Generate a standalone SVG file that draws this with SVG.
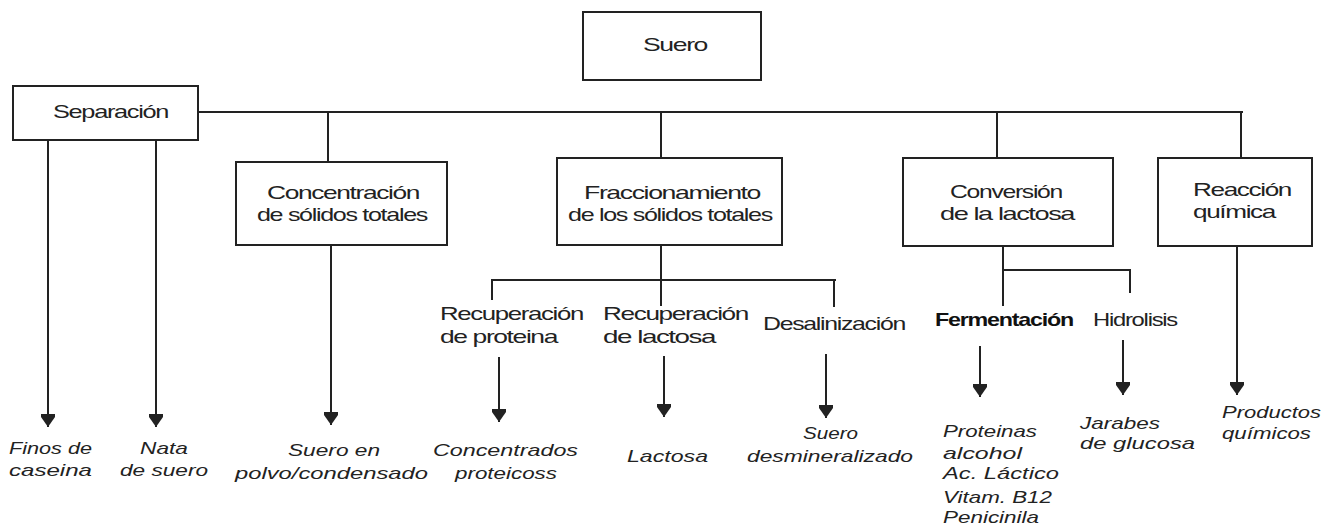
<svg xmlns="http://www.w3.org/2000/svg" width="1337" height="527" viewBox="0 0 1337 527">
<defs>
<style>
.box{fill:#fff;stroke:#222;stroke-width:2}
.ln{fill:none;stroke:#222;stroke-width:2}
.t{font-family:"Liberation Sans",Arial,sans-serif;font-size:19px;fill:#222;letter-spacing:-1px}
.p{font-family:"Liberation Sans",Arial,sans-serif;font-size:17px;font-style:italic;fill:#222}
.b{font-family:"Liberation Sans",Arial,sans-serif;font-size:19px;font-weight:bold;fill:#111;letter-spacing:-1px}
</style>
<marker id="ah" viewBox="0 -8 13 16" refX="13" refY="0" markerWidth="13" markerHeight="16" markerUnits="userSpaceOnUse" orient="auto">
<path d="M0,-7 L3,-7 L13,0 L3,7 L0,7 Z" fill="#222"/>
</marker>
</defs>
<rect width="1337" height="527" fill="#fff"/>
<g id="connectors">
<path class="ln" d="M198,112 H1243"/>
<path class="ln" d="M328,112 V162"/>
<path class="ln" d="M661,112 V158"/>
<path class="ln" d="M997,112 V158"/>
<path class="ln" d="M1241,112 V158"/>
<path class="ln" d="M48,140 V427" marker-end="url(#ah)"/>
<path class="ln" d="M156,140 V427" marker-end="url(#ah)"/>
<path class="ln" d="M331,245 V425" marker-end="url(#ah)"/>
<path class="ln" d="M661,245 V306 M491,280 H836 M492,280 V300 M834,280 V307"/>
<path class="ln" d="M499,357 V422" marker-end="url(#ah)"/>
<path class="ln" d="M664,356 V417" marker-end="url(#ah)"/>
<path class="ln" d="M826,354 V418" marker-end="url(#ah)"/>
<path class="ln" d="M1003,246 V306 M1003,270 H1130 V293"/>
<path class="ln" d="M980,346 V397" marker-end="url(#ah)"/>
<path class="ln" d="M1123,340 V395" marker-end="url(#ah)"/>
<path class="ln" d="M1237,246 V395" marker-end="url(#ah)"/>
</g>
<g id="suero">
<rect class="box" x="583" y="12" width="178" height="68"/>
<text class="t" x="643" y="51" textLength="64" lengthAdjust="spacingAndGlyphs">Suero</text>
</g>
<g id="separacion">
<rect class="box" x="13" y="86" width="185" height="54"/>
<text class="t" x="53" y="118" textLength="115" lengthAdjust="spacingAndGlyphs">Separación</text>
</g>
<g id="concentracion">
<rect class="box" x="236" y="162" width="211" height="83"/>
<text class="t" x="267" y="199" textLength="152" lengthAdjust="spacingAndGlyphs">Concentración</text>
<text class="t" x="257" y="221" textLength="170" lengthAdjust="spacingAndGlyphs">de sólidos totales</text>
</g>
<g id="fraccionamiento">
<rect class="box" x="557" y="158" width="225" height="87"/>
<text class="t" x="584" y="199" textLength="176" lengthAdjust="spacingAndGlyphs">Fraccionamiento</text>
<text class="t" x="568" y="221" textLength="204" lengthAdjust="spacingAndGlyphs">de los sólidos totales</text>
</g>
<g id="conversion">
<rect class="box" x="903" y="158" width="210" height="88"/>
<text class="t" x="950" y="198" textLength="112" lengthAdjust="spacingAndGlyphs">Conversión</text>
<text class="t" x="940" y="220" textLength="134" lengthAdjust="spacingAndGlyphs">de la lactosa</text>
</g>
<g id="reaccion">
<rect class="box" x="1158" y="158" width="154" height="88"/>
<text class="t" x="1193" y="196" textLength="98" lengthAdjust="spacingAndGlyphs">Reacción</text>
<text class="t" x="1193" y="218" textLength="82" lengthAdjust="spacingAndGlyphs">química</text>
</g>
<g id="rec-proteina">
<text class="t" x="440" y="320" textLength="143" lengthAdjust="spacingAndGlyphs">Recuperación</text>
<text class="t" x="440" y="343" textLength="117" lengthAdjust="spacingAndGlyphs">de proteina</text>
</g>
<g id="rec-lactosa">
<text class="t" x="603" y="320" textLength="145" lengthAdjust="spacingAndGlyphs">Recuperación</text>
<text class="t" x="603" y="343" textLength="112" lengthAdjust="spacingAndGlyphs">de lactosa</text>
</g>
<g id="desalinizacion">
<text class="t" x="763" y="330" textLength="142" lengthAdjust="spacingAndGlyphs">Desalinización</text>
</g>
<g id="fermentacion">
<text class="b" x="935" y="326" textLength="138" lengthAdjust="spacingAndGlyphs">Fermentación</text>
</g>
<g id="hidrolisis">
<text class="t" x="1093" y="326" textLength="84" lengthAdjust="spacingAndGlyphs">Hidrolisis</text>
</g>
<g id="finos">
<text class="p" x="9" y="454" textLength="83" lengthAdjust="spacingAndGlyphs">Finos de</text>
<text class="p" x="9" y="476" textLength="83" lengthAdjust="spacingAndGlyphs">caseina</text>
</g>
<g id="nata">
<text class="p" x="140" y="454" textLength="48" lengthAdjust="spacingAndGlyphs">Nata</text>
<text class="p" x="120" y="476" textLength="88" lengthAdjust="spacingAndGlyphs">de suero</text>
</g>
<g id="suero-polvo">
<text class="p" x="288" y="456" textLength="92" lengthAdjust="spacingAndGlyphs">Suero en</text>
<text class="p" x="235" y="479" textLength="193" lengthAdjust="spacingAndGlyphs">polvo/condensado</text>
</g>
<g id="concentrados">
<text class="p" x="433" y="456" textLength="145" lengthAdjust="spacingAndGlyphs">Concentrados</text>
<text class="p" x="455" y="479" textLength="102" lengthAdjust="spacingAndGlyphs">proteicoss</text>
</g>
<g id="lactosa">
<text class="p" x="627" y="462" textLength="81" lengthAdjust="spacingAndGlyphs">Lactosa</text>
</g>
<g id="desmineralizado">
<text class="p" x="803" y="439" textLength="55" lengthAdjust="spacingAndGlyphs">Suero</text>
<text class="p" x="747" y="462" textLength="166" lengthAdjust="spacingAndGlyphs">desmineralizado</text>
</g>
<g id="fermentacion-productos">
<text class="p" x="943" y="437" textLength="94" lengthAdjust="spacingAndGlyphs">Proteinas</text>
<text class="p" x="943" y="459" textLength="79" lengthAdjust="spacingAndGlyphs">alcohol</text>
<text class="p" x="943" y="479" textLength="116" lengthAdjust="spacingAndGlyphs">Ac. Láctico</text>
<text class="p" x="943" y="503" textLength="109" lengthAdjust="spacingAndGlyphs">Vitam. B12</text>
<text class="p" x="943" y="523" textLength="96" lengthAdjust="spacingAndGlyphs">Penicinila</text>
</g>
<g id="jarabes">
<text class="p" x="1080" y="429" textLength="80" lengthAdjust="spacingAndGlyphs">Jarabes</text>
<text class="p" x="1080" y="449" textLength="115" lengthAdjust="spacingAndGlyphs">de glucosa</text>
</g>
<g id="productos">
<text class="p" x="1222" y="418" textLength="99" lengthAdjust="spacingAndGlyphs">Productos</text>
<text class="p" x="1222" y="439" textLength="89" lengthAdjust="spacingAndGlyphs">químicos</text>
</g>
</svg>
